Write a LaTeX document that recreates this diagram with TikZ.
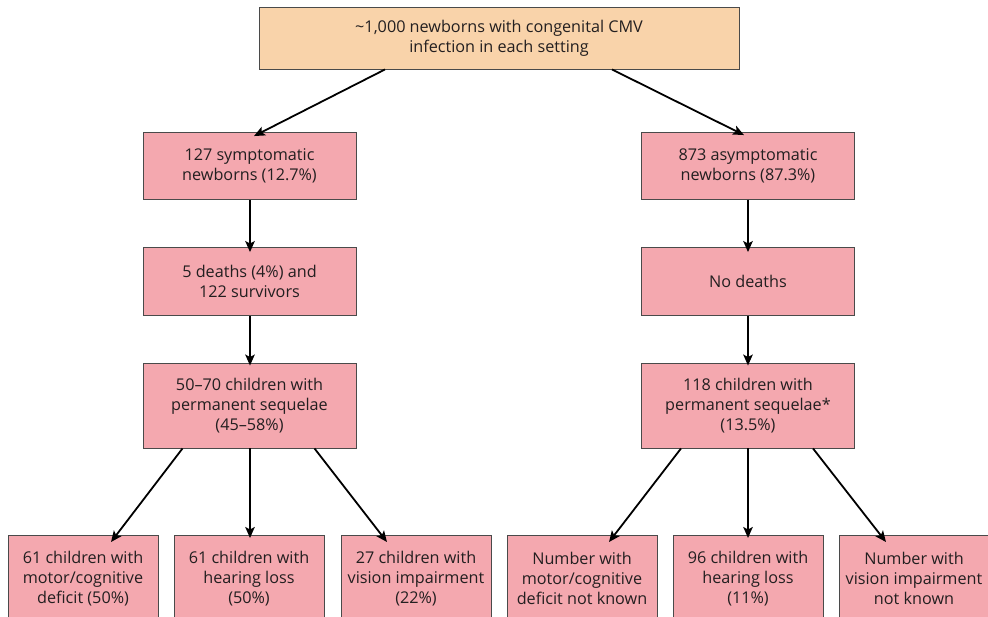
\documentclass[tikz,border=0pt]{standalone}
\usepackage{fontspec}
\setmainfont{Open Sans}
\usetikzlibrary{arrows.meta,positioning}
\definecolor{peach}{HTML}{F9D3AA}
\definecolor{pinkbox}{HTML}{F4A8AF}
\definecolor{edge}{HTML}{4A4A4A}
\definecolor{ink}{HTML}{231F20}
\tikzset{
  boxbase/.style={draw=edge, line width=0.9pt, text=ink, align=center, inner sep=0pt,
    font=\fontsize{16.2}{20}\selectfont},
  topbox/.style={boxbase, fill=peach, minimum width=480pt, minimum height=62pt},
  midbox/.style={boxbase, fill=pinkbox, minimum width=213pt, minimum height=67pt},
  tallbox/.style={boxbase, fill=pinkbox, minimum width=213pt, minimum height=85pt},
  leafbox/.style={boxbase, fill=pinkbox, minimum width=150pt, minimum height=86pt},
  arr/.style={draw=black, line width=1.8pt, -{Stealth[length=11pt,width=9.5pt,inset=2.5pt]}}
}
\begin{document}
\begin{tikzpicture}[x=1pt,y=-1pt]
\useasboundingbox (0,0) rectangle (988,616);
\node[topbox] (top) at (499,38) {\textasciitilde1,000 newborns with congenital CMV\\infection in each setting};
\node[midbox] (l1) at (249.5,166) {127 symptomatic\\newborns (12.7\%)};
\node[midbox] (r1) at (748,166) {873 asymptomatic\\newborns (87.3\%)};
\node[midbox, minimum height=68pt] (l2) at (249.5,281.5) {5 deaths (4\%) and\\122 survivors};
\node[midbox, minimum height=68pt] (r2) at (748,281.5) {No deaths};
\node[tallbox] (l3) at (249.5,405.5) {50--70 children with\\permanent sequelae\\(45--58\%)};
\node[tallbox] (r3) at (748,405.5) {118 children with\\permanent sequelae*\\(13.5\%)};
\node[leafbox, anchor=north] (b1) at (83,535) {61 children with\\motor/cognitive\\deficit (50\%)};
\node[leafbox, anchor=north] (b2) at (249,535) {61 children with\\hearing loss\\(50\%)};
\node[leafbox, anchor=north] (b3) at (416,535) {27 children with\\vision impairment\\(22\%)};
\node[leafbox, anchor=north] (b4) at (582,535) {Number with\\motor/cognitive\\deficit not known};
\node[leafbox, anchor=north] (b5) at (748,535) {96 children with\\hearing loss\\(11\%)};
\node[leafbox, anchor=north] (b6) at (914,535) {Number with\\vision impairment\\not known};
\draw[arr] ([xshift=-114pt]top.south) -- ([xshift=4.5pt,yshift=-4pt]l1.north);
\draw[arr] ([xshift=113pt]top.south) -- ([xshift=-4pt,yshift=-3pt]r1.north);
\draw[arr] ([xshift=0.5pt]l1.south) -- ([xshift=0.5pt,yshift=-5pt]l2.north);
\draw[arr] (r1.south) -- ([yshift=-5pt]r2.north);
\draw[arr] ([xshift=0.5pt]l2.south) -- ([xshift=0.5pt,yshift=-3pt]l3.north);
\draw[arr] (r2.south) -- ([yshift=-3pt]r3.north);
\draw[arr] ([xshift=-67pt]l3.south) -- ([xshift=28pt,yshift=-7pt]b1.north);
\draw[arr] ([xshift=0.5pt]l3.south) -- ([xshift=1pt,yshift=-3pt]b2.north);
\draw[arr] ([xshift=65pt]l3.south) -- ([xshift=-29pt,yshift=-7pt]b3.north);
\draw[arr] ([xshift=-67pt]r3.south) -- ([xshift=27pt,yshift=-7pt]b4.north);
\draw[arr] (r3.south) -- ([yshift=-3pt]b5.north);
\draw[arr] ([xshift=65pt]r3.south) -- ([xshift=-28pt,yshift=-7pt]b6.north);
\end{tikzpicture}
\end{document}
